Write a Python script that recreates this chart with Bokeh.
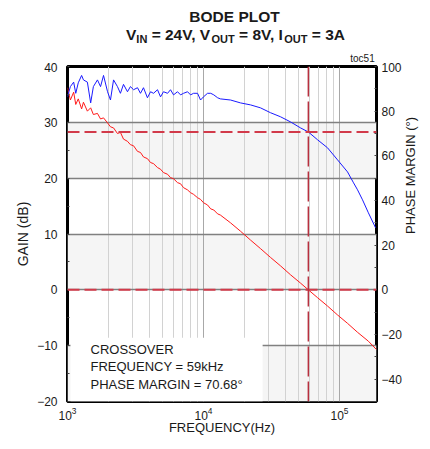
import math
from bokeh.plotting import figure
from bokeh.layouts import column
from bokeh.models import (Range1d, LinearAxis, FixedTicker, SingleIntervalTicker,
                          LogTickFormatter, Span, BoxAnnotation, Label, Grid)
from bokeh.embed import file_html
from bokeh.resources import INLINE

# ---------------- data ----------------
gain_freq_hz = [1000, 1050, 1110, 1150, 1200, 1270, 1310, 1400, 1480, 1550,
                1660, 1750, 1840, 1970, 2070, 2180, 2330, 2450, 2580, 2760,
                2900, 3060, 3270, 3440, 3620, 3870, 4080, 4290, 4590, 4830,
                5080, 5440, 5720, 6020, 6440, 6780, 7130, 7630, 8030, 8450,
                9040, 9510, 10000, 10700, 11300, 11900, 12700,
                13300, 15800, 18700, 22200, 26200, 31100, 36800, 43600, 51700,
                59000, 68900, 81600, 96700, 114500, 135600, 163000, 187000]
gain_db = [36.2, 34.0, 35.4, 33.2, 34.2, 32.4, 33.6, 32.0, 32.6, 31.4,
           31.6, 30.6, 30.8, 29.9, 29.2, 29.0, 28.0, 28.2, 27.0, 26.6,
           26.0, 25.8, 24.8, 24.6, 23.8, 23.5, 22.8, 22.6, 21.9, 21.6,
           21.0, 20.7, 20.1, 19.9, 19.2, 19.0, 18.3, 17.9, 17.4, 17.1,
           16.5, 16.2, 15.6, 15.2, 14.5, 14.3, 13.6,
           13.4, 12.0, 10.5, 8.9, 7.4, 5.8, 4.3, 2.7, 1.2,
           0.0, -1.4, -2.9, -4.5, -6.0, -7.6, -9.2, -10.7]

phase_freq_hz = [1000, 1050, 1110, 1150, 1200, 1270, 1310, 1400, 1480, 1550,
                 1660, 1750, 1840, 1970, 2070, 2180, 2330, 2450, 2580, 2760,
                 2900, 3060, 3270, 3440, 3620, 3870, 4080, 4290, 4590, 4830,
                 5080, 5440, 5720, 6020, 6440, 6780, 7130, 7630, 8030, 8450,
                 9040, 9510, 10000, 10700, 11300, 11900, 12700,
                 13300, 15800, 18700, 22200, 26200, 31100, 36800, 43600, 51700,
                 59000, 68900, 81600, 96700, 114500, 126800, 135600, 147600,
                 163000, 184000]
phase_deg = [86.4, 91.0, 93.0, 88.0, 92.7, 96.0, 94.0, 93.0, 83.7, 91.0,
             94.0, 91.0, 96.0, 88.7, 85.0, 94.0, 91.0, 88.0, 92.0, 88.7,
             91.0, 89.6, 90.5, 88.0, 90.5, 86.0, 88.7, 88.0, 89.6, 86.4,
             88.7, 88.0, 89.6, 87.3, 88.7, 87.3, 88.0, 88.7, 87.3, 88.0,
             88.0, 85.0, 86.4, 88.0, 88.0, 87.3, 86.0,
             85.5, 85.0, 83.7, 82.8, 81.5, 79.3, 77.5, 75.2, 72.5,
             70.68, 67.2, 63.6, 58.2, 52.8, 47.9, 44.8, 40.3,
             34.5, 27.8]

crossover_hz = 59000
phase_margin_deg = 70.68
x_ticks = [1e3, 1e4, 1e5]
x_minor_ticks = [m * d for d in (1e3, 1e4, 1e5) for m in range(2, 10)]
gain_ticks = [-20, -10, 0, 10, 20, 30, 40]
phase_ticks = [-40, -20, 0, 20, 40, 60, 80, 100]
info_lines = ["CROSSOVER", "FREQUENCY = 59kHz", "PHASE MARGIN = 70.68°"]

FONT = "Liberation Sans"
TXT = "#1a1a1a"
LEFT = 67       # page x of the plotting frame's left edge
FW = 309        # frame width
RIGHT = 50
TOP_H = 62

# ---------------- title strip (frame aligned with the main frame) ----------------
t = figure(frame_width=FW, frame_height=TOP_H, x_range=Range1d(0, FW), y_range=Range1d(0, TOP_H),
           x_axis_location=None, y_axis_location=None,
           min_border_left=LEFT, min_border_right=RIGHT, min_border_top=0, min_border_bottom=0,
           output_backend="svg", toolbar_location=None)
t.outline_line_color = None
t.grid.visible = False
t.background_fill_color = "white"
t.border_fill_color = "white"


def sx(page_x):
    return page_x - LEFT


def sy(page_y):
    return TOP_H - page_y


t.add_layout(Label(x=sx(234), y=sy(15.5), x_units="screen", y_units="screen", text="BODE PLOT",
                   text_font=FONT, text_font_size="15.5px", text_font_style="bold",
                   text_color=TXT, text_align="center", text_baseline="middle"))

BOLD_W = {'V': 667, 'I': 278, 'N': 722, 'O': 778, 'U': 722, 'T': 611, ' ': 278, '=': 584,
          '2': 556, '4': 556, '8': 556, '3': 556, 'A': 722, ',': 278}


def tw(s, size):
    return sum(BOLD_W[c] for c in s) * size / 1000.0


pieces = [("V", False), ("IN", True), (" = 24V, V", False), ("OUT", True),
          (" = 8V, I", False), ("OUT", True), (" = 3A", False)]
F, S = 15.5, 11
total = sum(tw(s, S if sub else F) for s, sub in pieces)
cx = 235 - total / 2
for s, sub in pieces:
    size = S if sub else F
    stripped = s.lstrip(" ")
    lead = tw(s[:len(s) - len(stripped)], size)
    t.add_layout(Label(x=sx(cx + lead), y=sy(38.5 if sub else 34), x_units="screen",
                       y_units="screen", text=stripped, text_font=FONT,
                       text_font_size=f"{size}px", text_font_style="bold", text_color=TXT,
                       text_align="left", text_baseline="middle"))
    cx += tw(s, size)

t.add_layout(Label(x=sx(362), y=sy(57.5), x_units="screen", y_units="screen", text="toc51",
                   text_font=FONT, text_font_size="10px", text_color=TXT,
                   text_align="center", text_baseline="middle"))

# ---------------- main plot ----------------
p = figure(x_axis_type="log", x_range=Range1d(1e3, 1.87e5), y_range=Range1d(-20, 40),
           frame_width=FW, frame_height=335,
           min_border_left=LEFT, min_border_top=4, min_border_right=RIGHT, min_border_bottom=42,
           output_backend="svg", toolbar_location=None)
p.extra_y_ranges = {"phase": Range1d(-50, 100)}
p.background_fill_color = "white"
p.border_fill_color = "white"
p.outline_line_color = "black"
p.outline_line_width = 3

# x axis
xa = p.xaxis[0]
xa.ticker = FixedTicker(ticks=x_ticks, minor_ticks=x_minor_ticks)
xa.formatter = LogTickFormatter()
xa.axis_line_color = None
xa.major_tick_out = 0
xa.major_tick_in = 0
xa.minor_tick_out = 0
xa.minor_tick_in = 0
xa.major_label_standoff = 5
xa.major_label_text_font = FONT
xa.major_label_text_font_size = "12px"
xa.major_label_text_color = TXT
xa.axis_label = "FREQUENCY(Hz)"
xa.axis_label_text_font = FONT
xa.axis_label_text_font_style = "normal"
xa.axis_label_text_font_size = "13px"
xa.axis_label_text_color = TXT
xa.axis_label_standoff = -3

# left axis
ya = p.yaxis[0]
ya.ticker = SingleIntervalTicker(interval=10, num_minor_ticks=2)
ya.axis_line_color = None
ya.major_tick_out = 0
ya.major_tick_in = 0
ya.minor_tick_out = 0
ya.minor_tick_in = 2
ya.minor_tick_line_color = "#444444"
ya.major_label_standoff = 10
ya.major_label_text_font = FONT
ya.major_label_text_font_size = "12px"
ya.major_label_text_color = TXT
ya.axis_label = "GAIN (dB)"
ya.axis_label_text_font = FONT
ya.axis_label_text_font_style = "normal"
ya.axis_label_text_font_size = "14px"
ya.axis_label_text_color = TXT
ya.axis_label_standoff = 3

# right axis
ra = LinearAxis(y_range_name="phase", ticker=SingleIntervalTicker(interval=20, num_minor_ticks=2))
ra.axis_line_color = None
ra.major_tick_out = 0
ra.major_tick_in = 0
ra.minor_tick_out = 0
ra.minor_tick_in = 2
ra.minor_tick_line_color = "#444444"
ra.major_label_standoff = 5
ra.major_label_text_font = FONT
ra.major_label_text_font_size = "12px"
ra.major_label_text_color = TXT
ra.axis_label = "PHASE MARGIN (°)"
ra.axis_label_orientation = math.pi / 2
ra.axis_label_text_font = FONT
ra.axis_label_text_font_style = "normal"
ra.axis_label_text_font_size = "13px"
ra.axis_label_text_color = TXT
ra.axis_label_standoff = 6
p.add_layout(ra, "right")

# grids: bands, vertical lines, horizontal lines
xg = p.xgrid[0]
xg.grid_line_color = "#a8a8a8"
xg.grid_line_width = 1
xg.minor_grid_line_color = "#d2d2d2"
xg.minor_grid_line_width = 1
bands = []
for lo in gain_ticks[0:-1:2]:
    bands.append(BoxAnnotation(bottom=lo, top=lo + 10, fill_color="#f5f5f5", fill_alpha=1,
                               line_color=None, level="underlay"))
yline = Grid(dimension=1, ticker=FixedTicker(ticks=gain_ticks), grid_line_color="#808080",
             grid_line_width=1.5)
p.center = bands + [xg, yline]

# curves
p.line(gain_freq_hz, gain_db, line_color="#ff1a1a", line_width=1)
p.line(phase_freq_hz, phase_deg, line_color="#1a1aff", line_width=1, y_range_name="phase")

# white info box (covers grid in lower-left)
p.add_layout(BoxAnnotation(left=1052, right=27200, bottom=-20, top=-8.57,
                           fill_color="white", fill_alpha=1, line_color=None))

# reference lines
p.add_layout(Span(location=0, dimension="width", line_color="#d23a4a", line_width=2, line_dash="12 5"))
p.add_layout(Span(location=phase_margin_deg, dimension="width", y_range_name="phase",
                  line_color="#d23a4a", line_width=2, line_dash="12 5"))
p.add_layout(Span(location=crossover_hz, dimension="height", line_color="#b8303f",
                  line_width=1.5, line_dash="30 5"))

# info text
for s, yy in zip(info_lines, [52, 35, 17]):
    p.add_layout(Label(x=23, y=yy, x_units="screen", y_units="screen", text=s,
                       text_font=FONT, text_font_size="13px", text_color=TXT,
                       text_align="left", text_baseline="middle"))

layout = column(t, p)
open("out.html", "w").write(file_html(layout, INLINE))
